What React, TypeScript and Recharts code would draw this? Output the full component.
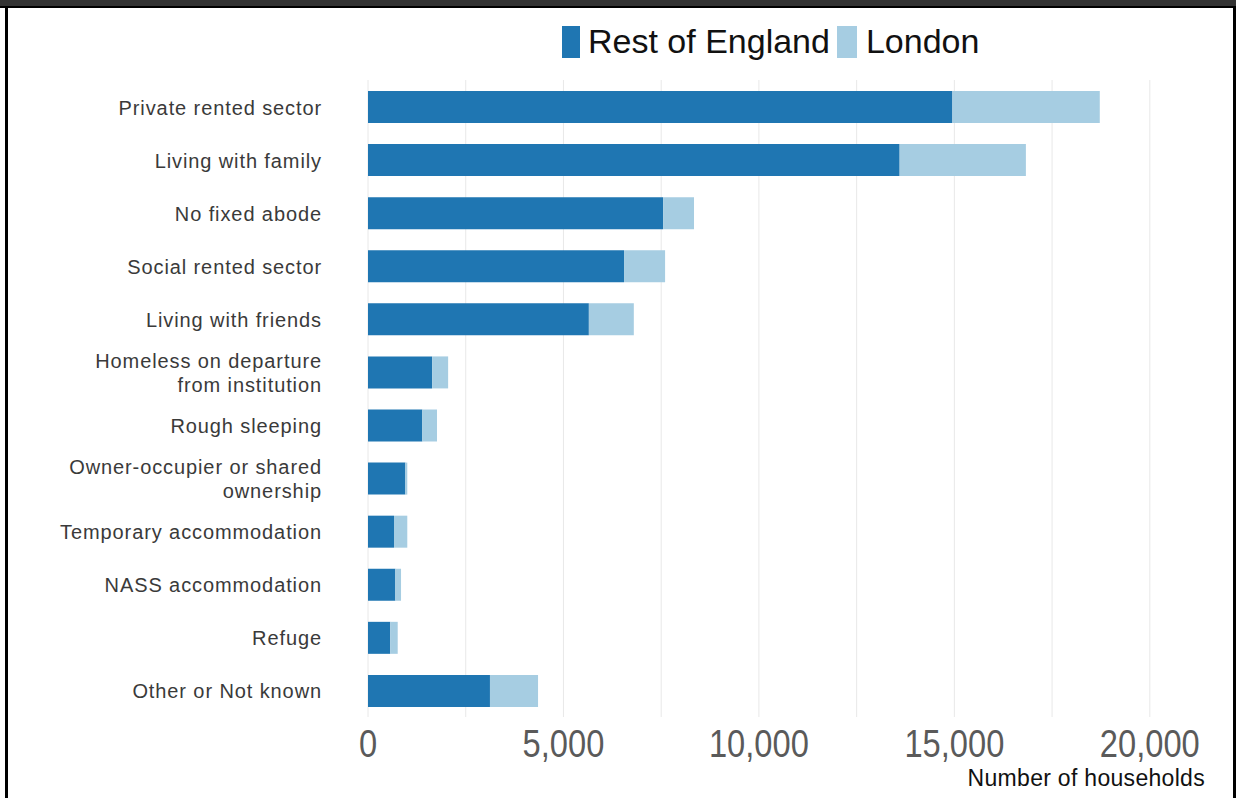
import { BarChart, Bar, XAxis, YAxis, CartesianGrid } from "recharts";

const categories = [
  "Private rented sector",
  "Living with family",
  "No fixed abode",
  "Social rented sector",
  "Living with friends",
  "Homeless on departure\nfrom institution",
  "Rough sleeping",
  "Owner-occupier or shared\nownership",
  "Temporary accommodation",
  "NASS accommodation",
  "Refuge",
  "Other or Not known",
];
const restOfEngland = [14950, 13600, 7550, 6550, 5650, 1640, 1390, 955, 665, 700, 570, 3120];
const london = [3770, 3230, 790, 1050, 1150, 410, 375, 50, 340, 145, 190, 1230];
const xTicks = [0, 2500, 5000, 7500, 10000, 12500, 15000, 17500, 20000];

const DARK = "#1f76b2";
const LIGHT = "#a6cde2";
const FONT = "'Liberation Sans', Arial, sans-serif";

const data = categories.map((name, i) => ({
  name,
  rest: restOfEngland[i],
  london: london[i],
}));

const CategoryTick = (props: any) => {
  const { y, payload } = props;
  const lines = String(payload.value).split("\n");
  const start = -((lines.length - 1) * 24) / 2;
  return (
    <text
      x={322}
      y={y}
      textAnchor="end"
      fill="#3a3a3a"
      fontFamily={FONT}
      fontSize={20}
      letterSpacing={0.9}
    >
      {lines.map((l, i) => (
        <tspan key={i} x={322} dy={i === 0 ? start + 8 : 24}>
          {l}
        </tspan>
      ))}
    </text>
  );
};

// tick labels are drawn slightly condensed, like the original
const ValueTick = (props: any) => {
  const { x, y, payload } = props;
  if (payload.value % 5000 !== 0) return <g />;
  return (
    <text
      transform={`translate(${x},${y + 32}) scale(0.86,1)`}
      x={0}
      y={0}
      textAnchor="middle"
      fill="#5a5a5a"
      fontFamily={FONT}
      fontSize={38}
    >
      {payload.value.toLocaleString("en-GB")}
    </text>
  );
};

export default function App() {
  return (
    <div
      style={{
        position: "absolute",
        left: 0,
        top: 0,
        width: 1236,
        height: 798,
        background: "#fff",
        overflow: "hidden",
      }}
    >
      <div style={{ position: "absolute", left: 0, top: 0, width: 1236, height: 6, background: "#333" }} />
      <div style={{ position: "absolute", left: 0, top: 6, width: 1236, height: 2, background: "#000" }} />
      <div style={{ position: "absolute", left: 5, top: 6, width: 3, height: 792, background: "#000" }} />
      <div style={{ position: "absolute", left: 1233, top: 6, width: 3, height: 792, background: "#000" }} />

      {/* legend */}
      <div
        style={{
          position: "absolute",
          left: 562,
          top: 22,
          display: "flex",
          alignItems: "center",
          fontFamily: FONT,
          fontSize: 34,
          color: "#111",
        }}
      >
        <span style={{ display: "inline-block", width: 18, height: 32, background: DARK, marginRight: 8 }} />
        <span>Rest of England</span>
        <span style={{ display: "inline-block", width: 20, height: 32, background: LIGHT, marginLeft: 7, marginRight: 9 }} />
        <span>London</span>
      </div>

      <div style={{ position: "absolute", left: 0, top: 0 }}>
        <BarChart
          width={1236}
          height={798}
          data={data}
          layout="vertical"
          margin={{ top: 80, right: 8, left: 0, bottom: 21 }}
          barSize={32}
        >
          <CartesianGrid horizontal={false} stroke="#e8e8e8" verticalValues={xTicks} />
          <XAxis
            type="number"
            domain={[0, 22000]}
            ticks={xTicks}
            axisLine={false}
            tickLine={false}
            height={60}
            interval={0}
            tick={<ValueTick />}
          />
          <YAxis
            type="category"
            dataKey="name"
            width={368}
            axisLine={false}
            tickLine={false}
            interval={0}
            tick={<CategoryTick />}
          />
          <Bar dataKey="rest" stackId="a" fill={DARK} isAnimationActive={false} />
          <Bar dataKey="london" stackId="a" fill={LIGHT} isAnimationActive={false} />
        </BarChart>
      </div>

      <div
        style={{
          position: "absolute",
          right: 31,
          top: 765,
          fontFamily: FONT,
          fontSize: 23,
          letterSpacing: 0.3,
          color: "#111",
        }}
      >
        Number of households
      </div>
    </div>
  );
}
